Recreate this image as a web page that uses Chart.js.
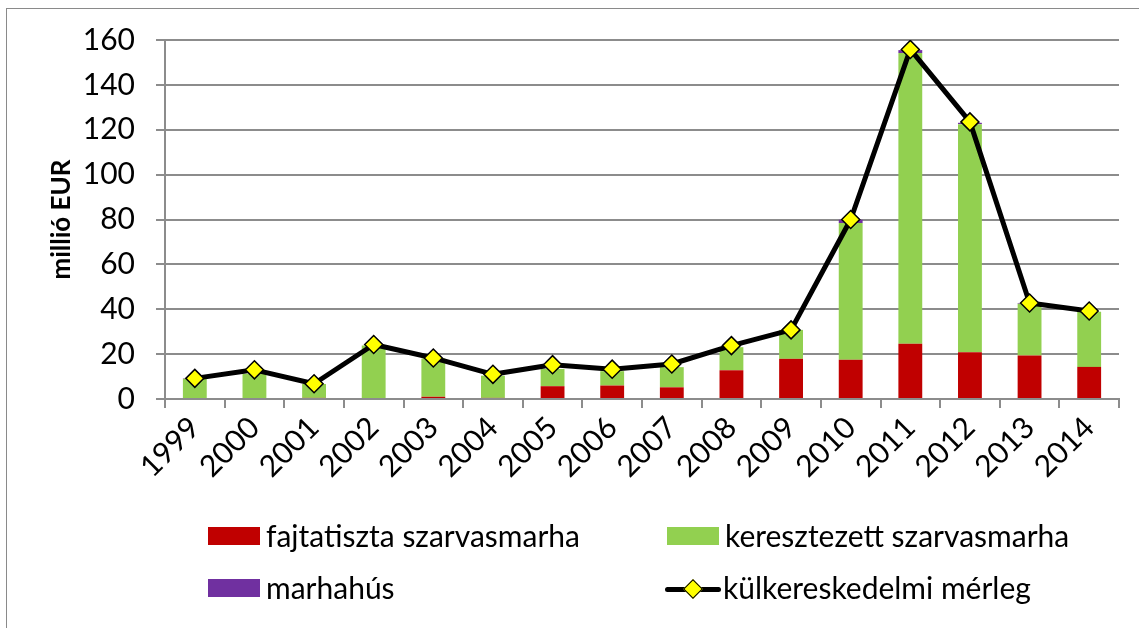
<!DOCTYPE html>
<html>
<head>
<meta charset="utf-8">
<script src="https://cdn.jsdelivr.net/npm/chart.js@4"></script>
<style>
  body { margin: 0; background: #fff; }
  #wrap { position: relative; width: 1139px; height: 628px; overflow: hidden; }
  #frame { position: absolute; left: 6px; top: 8px; right: -10px; bottom: -10px;
    border-top: 1px solid #8a8a8a; border-left: 1px solid #8a8a8a; }
  #myChart { position: absolute; left: 0; top: 0; }
  .item { position: absolute; font-family: Lato, "Open Sans", sans-serif; font-size: 30px;
    color: #000; line-height: 34px; white-space: nowrap; }
  .box { position: absolute; width: 52px; height: 18px; }
  .sym { position: absolute; width: 56px; height: 20px; }
  .sym .bar { position: absolute; left: 0; right: 0; top: 8px; height: 5px; background: #000; border-radius: 3px; }
  .sym .dia { position: absolute; left: 21px; top: 3px; width: 12px; height: 12px; background: #ffff00;
    border: 1.5px solid #000; transform: rotate(45deg); }
</style>
</head>
<body>
<div id="wrap">
  <div id="frame"></div>
  <canvas id="myChart" width="1139" height="628"></canvas>
  <div id="legend"></div>
</div>
<script>
const years = ["1999", "2000", "2001", "2002", "2003", "2004", "2005", "2006",
  "2007", "2008", "2009", "2010", "2011", "2012", "2013", "2014"];
// millió EUR
const fajtatiszta = [0, 0, 0.5, 0, 1, 0.5, 5.7, 6, 5.2, 12.8, 17.9, 17.5, 24.6, 20.8, 19.4, 14.3];
const keresztezett = [9, 11.2, 6.2, 23.8, 17, 9.9, 7.7, 6.4, 9, 10.3, 12.9, 60.9, 129.6, 101.7, 23.1, 24.6];
const marhahus = [0.2, 0, 0, 0, 0, 0, 0, 0, 0, 0, 0, 1.5, 1.3, 0.6, 0.3, 0];
const merleg = [9.2, 13, 6.8, 24.3, 18.3, 11, 15.3, 13.3, 15.6, 23.8, 30.8, 80, 155.8, 123.5, 42.8, 39.2];
const yTicks = [0, 20, 40, 60, 80, 100, 120, 140, 160];

const gridColor = "#8c8c8c";
Chart.defaults.font.family = "Lato, 'Open Sans', sans-serif";
Chart.defaults.color = "#000";

const barSet = (label, data, color) => ({
  type: "bar",
  label: label,
  data: data,
  backgroundColor: color,
  borderWidth: 0,
  stack: "kivitel",
  order: 1,
  barPercentage: 0.4,
  categoryPercentage: 1,
});

const datasets = [
  barSet("fajtatiszta szarvasmarha", fajtatiszta, "#c00000"),
  barSet("keresztezett szarvasmarha", keresztezett, "#92d050"),
  barSet("marhahús", marhahus, "#7030a0"),
  {
    type: "line",
    label: "külkereskedelmi mérleg",
    data: merleg,
    borderColor: "#000",
    borderWidth: 5,
    tension: 0,
    borderJoinStyle: "round",
    pointStyle: "rectRot",
    pointRadius: 9,
    pointHoverRadius: 9,
    pointBackgroundColor: "#ffff00",
    pointBorderColor: "#000",
    pointBorderWidth: 1.5,
    stack: "merleg",
    order: 0,
  },
];

const ctx = document.getElementById("myChart").getContext("2d");
const myChart = new Chart(ctx, {
  data: { labels: years, datasets: datasets },
  options: {
    responsive: false,
    animation: false,
    layout: { padding: { top: 40, right: 20, left: 0, bottom: 0 } },
    plugins: { legend: { display: false }, tooltip: { enabled: false } },
    scales: {
      x: {
        stacked: true,
        afterFit: (scale) => { scale.height = 229; },
        border: { display: true, color: gridColor, width: 2 },
        grid: { drawOnChartArea: false, drawTicks: true, tickLength: 9, color: gridColor, lineWidth: 2 },
        ticks: { font: { size: 30 }, maxRotation: 45, minRotation: 45, padding: 2, autoSkip: false },
      },
      y: {
        stacked: true,
        min: 0,
        max: 160,
        afterFit: (scale) => { scale.width = 165; },
        afterBuildTicks: (scale) => { scale.ticks = yTicks.map((v) => ({ value: v })); },
        border: { display: true, color: gridColor, width: 2 },
        grid: { color: gridColor, lineWidth: 2, tickLength: 9 },
        ticks: { font: { size: 30 }, padding: 21 },
        title: {
          display: true,
          text: "millió EUR",
          font: { size: 26, weight: "bold" },
          padding: { top: 46, bottom: 0 },
        },
      },
    },
  },
});

// legend in two columns below the chart
const legendPos = [
  { left: 208, top: 527 },
  { left: 667, top: 527 },
  { left: 208, top: 579 },
  { left: 665, top: 579 },
];
const legend = document.getElementById("legend");
myChart.data.datasets.forEach((ds, i) => {
  const p = legendPos[i];
  let mark = document.createElement("div");
  if (ds.type === "bar") {
    mark.className = "box";
    mark.style.left = p.left + "px";
    mark.style.top = p.top + "px";
    mark.style.background = ds.backgroundColor;
  } else {
    mark.className = "sym";
    mark.style.left = p.left + "px";
    mark.style.top = p.top + "px";
    mark.innerHTML = '<div class="bar"></div><div class="dia"></div>';
  }
  legend.appendChild(mark);
  let text = document.createElement("div");
  text.className = "item";
  text.style.left = (p.left + 58) + "px";
  text.style.top = (p.top - 9) + "px";
  text.textContent = ds.label;
  legend.appendChild(text);
});
</script>
</body>
</html>
